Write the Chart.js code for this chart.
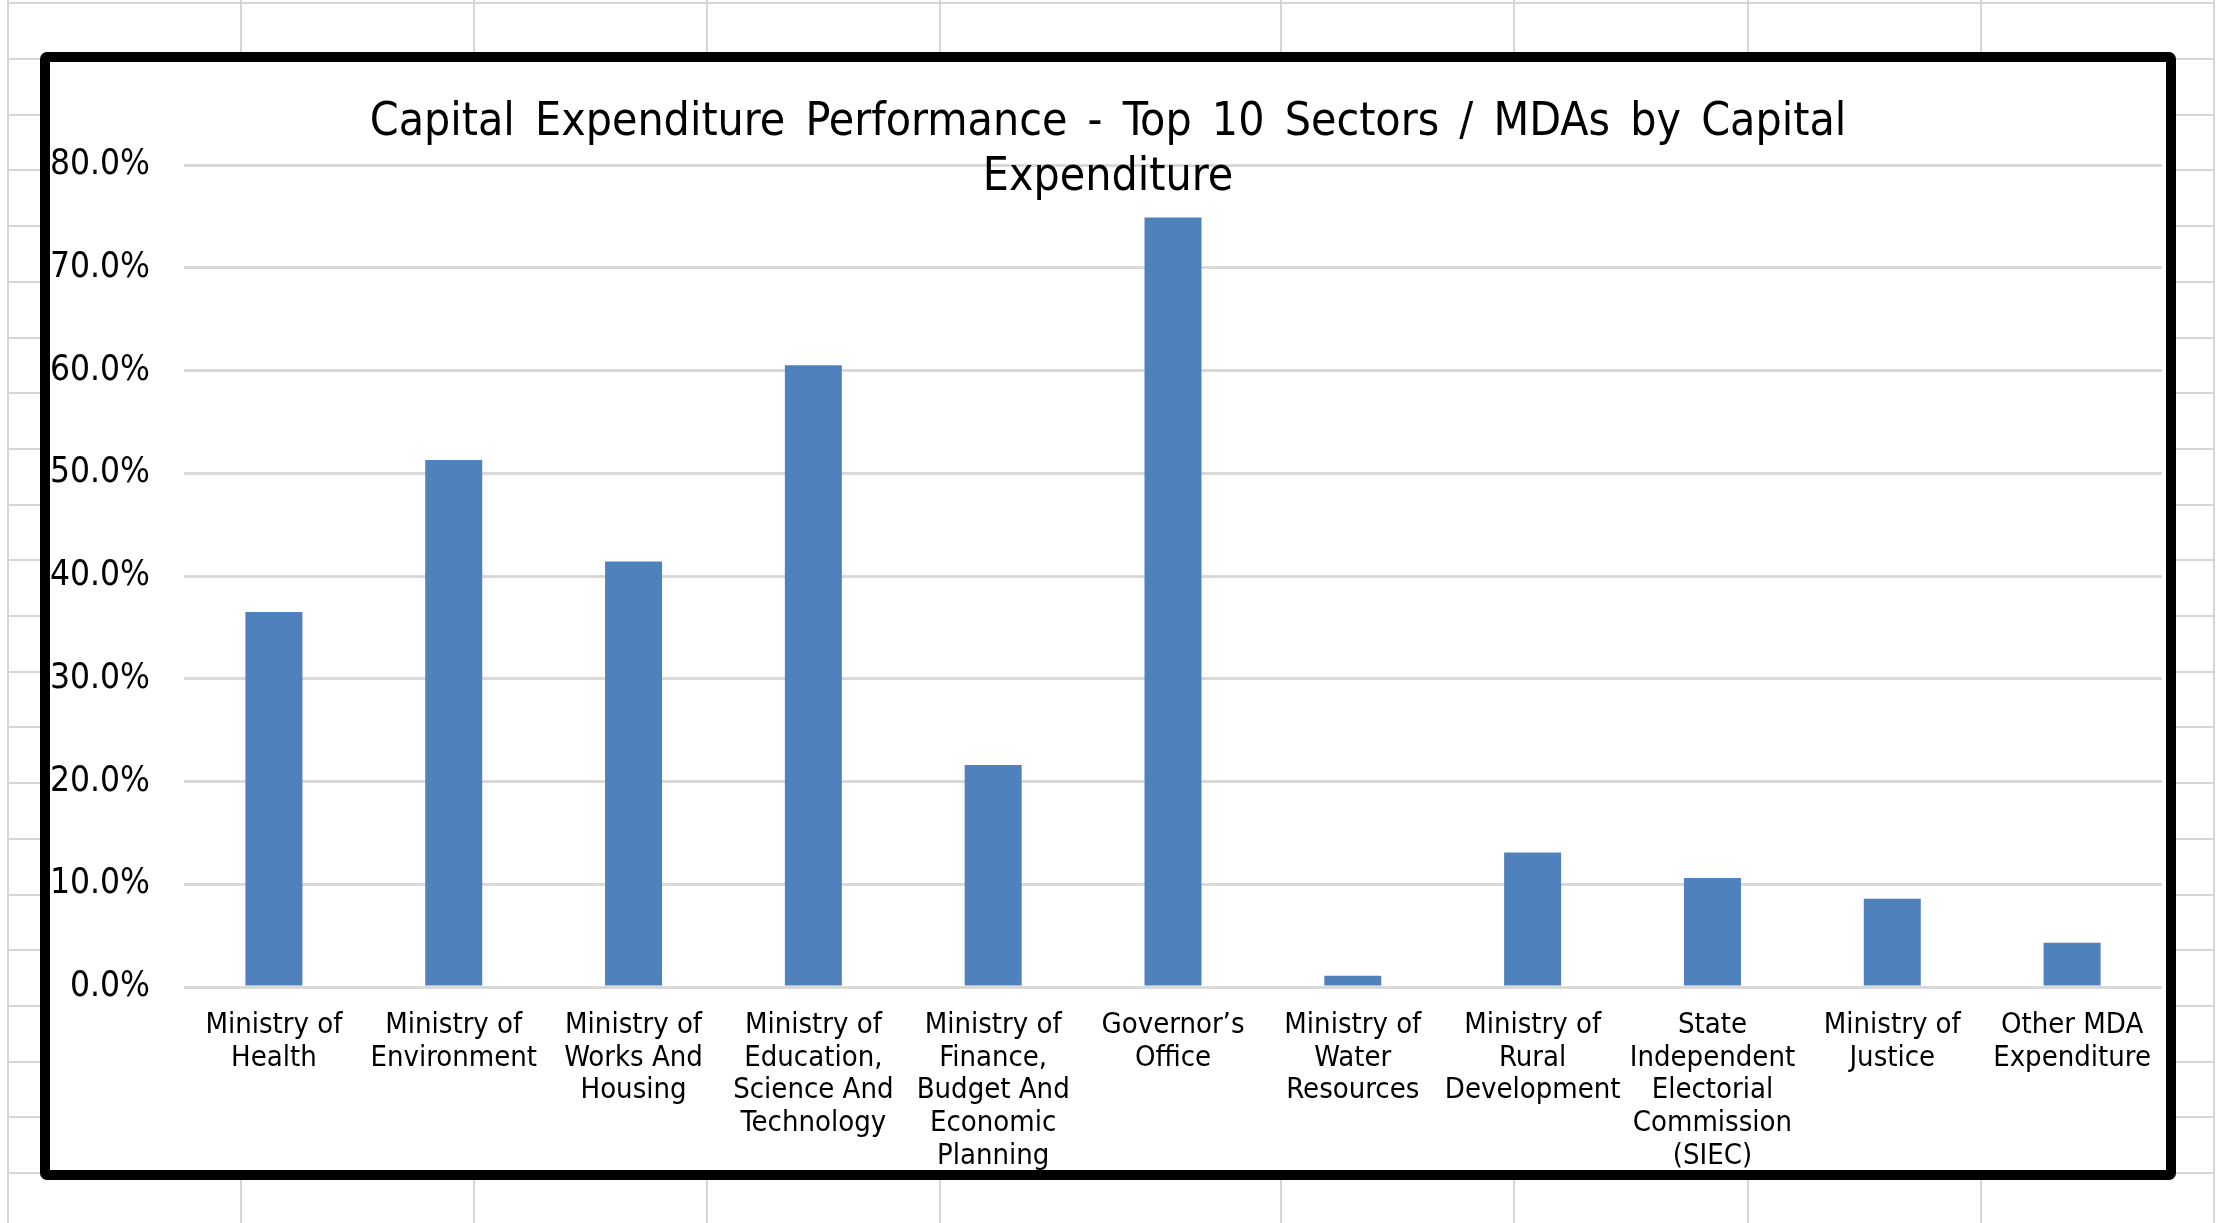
<!DOCTYPE html>
<html>
<head>
<meta charset="utf-8">
<title>Capital Expenditure Performance</title>
<script src="https://cdn.jsdelivr.net/npm/chart.js@4.4.1/dist/chart.umd.min.js"></script>
<style>
  html, body { margin: 0; padding: 0; background: #fff; }
  body { width: 2229px; height: 1223px; position: relative; overflow: hidden; }
  .gl { position: absolute; background: #d6d6d6; }
  #frame {
    position: absolute; left: 40px; top: 52px;
    width: 2116px; height: 1108px;
    border: 10px solid #000; border-radius: 7px;
    background: #fff;
  }
  #wrap { position: absolute; left: 0; top: 0; width: 2116px; height: 1108px; }
</style>
</head>
<body>
<div id="frame"><div id="wrap"><canvas id="capexChart"></canvas></div></div>
<script>
// data
const titleLines = [
  'Capital Expenditure Performance - Top 10 Sectors / MDAs by Capital',
  'Expenditure'
];

const categories = [
  ['Ministry of', 'Health'],
  ['Ministry of', 'Environment'],
  ['Ministry of', 'Works And', 'Housing'],
  ['Ministry of', 'Education,', 'Science And', 'Technology'],
  ['Ministry of', 'Finance,', 'Budget And', 'Economic', 'Planning'],
  ['Governor\u2019s', 'Office'],
  ['Ministry of', 'Water', 'Resources'],
  ['Ministry of', 'Rural', 'Development'],
  ['State', 'Independent', 'Electorial', 'Commission', '(SIEC)'],
  ['Ministry of', 'Justice'],
  ['Other MDA', 'Expenditure']
];

// percent of capital budget performed
const capexPerformance = [36.5, 51.3, 41.4, 60.5, 21.6, 74.9, 1.1, 13.1, 10.6, 8.6, 4.3];

const yMin = 0;
const yMax = 80;
const yStep = 10;

// spreadsheet cell lines behind the chart
const colLines = [7, 240, 473, 706, 939, 1280, 1513, 1747, 1980, 2213];
const rowTop = 2.3, rowHeight = 55.7;

colLines.forEach(x => {
  const d = document.createElement('div');
  d.className = 'gl';
  d.style.left = x + 'px'; d.style.top = '0px';
  d.style.width = '2px'; d.style.height = '1223px';
  document.body.insertBefore(d, document.getElementById('frame'));
});
for (let y = rowTop; y < 1223; y += rowHeight) {
  const d = document.createElement('div');
  d.className = 'gl';
  d.style.left = '7px'; d.style.top = Math.round(y) + 'px';
  d.style.width = '2208px'; d.style.height = '2px';
  document.body.insertBefore(d, document.getElementById('frame'));
}

const fontFamily = '"DejaVu Sans Condensed", "DejaVu Sans", sans-serif';
Chart.defaults.font.family = fontFamily;
Chart.defaults.color = '#000';

// title overlaps the plot in the original, so draw it by hand
const titlePlugin = {
  id: 'excelTitle',
  afterDraw(chart) {
    const ctx = chart.ctx;
    ctx.save();
    ctx.font = '46px ' + fontFamily;
    ctx.fillStyle = '#000';
    ctx.textAlign = 'center';
    ctx.textBaseline = 'alphabetic';
    if ('wordSpacing' in ctx) ctx.wordSpacing = '7px';
    titleLines.forEach((line, i) => {
      ctx.fillText(line, chart.width / 2, 73 + i * 55);
    });
    ctx.restore();
  }
};

const ctx = document.getElementById('capexChart').getContext('2d');

const capexChart = new Chart(ctx, {
  type: 'bar',
  data: {
    labels: categories,
    datasets: [{
      label: 'Capital Expenditure Performance',
      data: capexPerformance,
      backgroundColor: '#4F81BD',
      borderWidth: 0,
      barPercentage: 0.317,
      categoryPercentage: 1
    }]
  },
  options: {
    responsive: true,
    maintainAspectRatio: false,
    animation: false,
    layout: {
      padding: { top: 103, right: 4, bottom: 0, left: 0 }
    },
    plugins: {
      legend: { display: false },
      tooltip: { enabled: false },
      title: { display: false }
    },
    scales: {
      x: {
        grid: { display: false },
        border: { display: false },
        ticks: {
          font: { size: 29, lineHeight: 1.13 },
          maxRotation: 0,
          autoSkip: false,
          padding: 14
        },
        afterFit: scale => { scale.height = 183; }
      },
      y: {
        min: yMin,
        max: yMax,
        grid: { color: '#d9d9d9', lineWidth: 3, drawTicks: false },
        border: { display: false },
        ticks: {
          stepSize: yStep,
          font: { size: 35 },
          padding: 34,
          callback: v => v.toFixed(1) + '%'
        },
        afterFit: scale => { scale.width = 134; }
      }
    }
  },
  plugins: [titlePlugin]
});
</script>
</body>
</html>
